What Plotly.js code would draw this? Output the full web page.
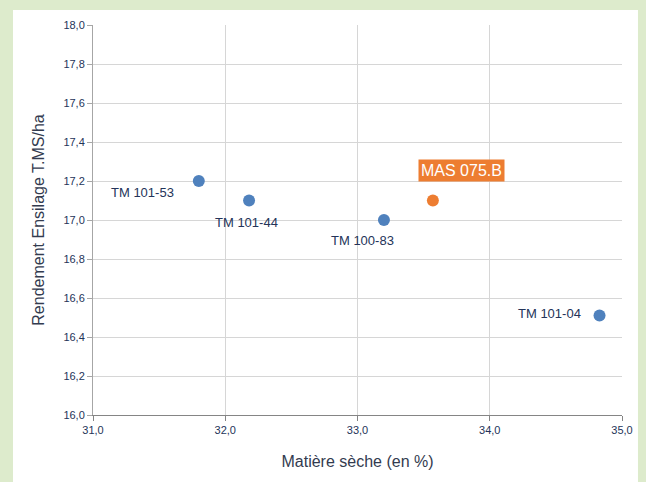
<!DOCTYPE html>
<html>
<head>
<meta charset="utf-8">
<script src="https://cdn.plot.ly/plotly-3.0.1.min.js"></script>
<style>html,body{margin:0;padding:0;background:#DDEBCC;}#chart{width:646px;height:482px;}</style>
</head>
<body>
<div id="chart"></div>
<script>
// Data
const varieties = ["TM 101-53", "TM 101-44", "TM 100-83", "MAS 075.B", "TM 101-04"];
const matiereSeche = [31.80, 32.18, 33.20, 33.57, 34.83];
const rendement = [17.20, 17.10, 17.00, 17.10, 16.51];
const highlighted = [false, false, false, true, false];
// label offsets in pixels (style only)
const labelDx = [-56, -3, -21, 29, -50];
const labelDy = [-11, -22, -20, 30, 2];

const blue = "#4F81BD", orange = "#ED7D31";

const blueIdx = varieties.map((v, i) => i).filter(i => !highlighted[i]);
const orangeIdx = varieties.map((v, i) => i).filter(i => highlighted[i]);

const traces = [
  {
    type: "scatter", mode: "markers",
    x: blueIdx.map(i => matiereSeche[i]), y: blueIdx.map(i => rendement[i]),
    text: blueIdx.map(i => varieties[i]),
    marker: {color: blue, size: 12},
    hoverinfo: "text+x+y", showlegend: false
  },
  {
    type: "scatter", mode: "markers",
    x: orangeIdx.map(i => matiereSeche[i]), y: orangeIdx.map(i => rendement[i]),
    text: orangeIdx.map(i => varieties[i]),
    marker: {color: orange, size: 12},
    hoverinfo: "text+x+y", showlegend: false
  }
];

const annotations = varieties.map((v, i) => highlighted[i] ? {
  x: matiereSeche[i], y: rendement[i], xref: "x", yref: "y",
  text: v, showarrow: false, xshift: labelDx[i], yshift: labelDy[i],
  font: {family: "Liberation Sans, Arial, sans-serif", size: 16, color: "#ffffff"},
  bgcolor: orange, borderpad: 2
} : {
  x: matiereSeche[i], y: rendement[i], xref: "x", yref: "y",
  text: v, showarrow: false, xshift: labelDx[i], yshift: labelDy[i],
  font: {family: "Liberation Sans, Arial, sans-serif", size: 13, color: "#243459"}
});

const layout = {
  width: 646, height: 482,
  margin: {l: 93, r: 24, t: 25, b: 67},
  paper_bgcolor: "#DDEBCC",
  plot_bgcolor: "#ffffff",
  separators: ", ",
  showlegend: false,
  font: {family: "Liberation Sans, Arial, sans-serif"},
  shapes: [{
    type: "rect", xref: "paper", yref: "paper", layer: "below",
    x0: -0.1512, x1: 1.0302, y0: -0.25, y1: 1.0385,
    fillcolor: "#ffffff", line: {width: 0}
  }],
  xaxis: {
    range: [31, 35], dtick: 1, tick0: 31, tickformat: ".1f",
    showgrid: true, gridcolor: "#D6D6D6", gridwidth: 1,
    zeroline: false, showline: true, linecolor: "#858585", linewidth: 1,
    ticks: "outside", ticklen: 5, tickcolor: "#858585",
    tickfont: {size: 11, color: "#243459"},
    title: {text: "Matière sèche (en %)", font: {size: 16, color: "#333B4F"}, standoff: 20}
  },
  yaxis: {
    range: [16, 18], dtick: 0.2, tick0: 16, tickformat: ".1f",
    showgrid: true, gridcolor: "#D6D6D6", gridwidth: 1,
    zeroline: false, showline: true, linecolor: "#A6A6A6", linewidth: 1,
    ticks: "outside", ticklen: 5, tickcolor: "#A6A6A6",
    tickfont: {size: 11, color: "#243459"},
    title: {text: "Rendement Ensilage T.MS/ha", font: {size: 16, color: "#333B4F"}, standoff: 14}
  },
  annotations: annotations
};

Plotly.newPlot("chart", traces, layout, {displayModeBar: false, staticPlot: true});
</script>
</body>
</html>
